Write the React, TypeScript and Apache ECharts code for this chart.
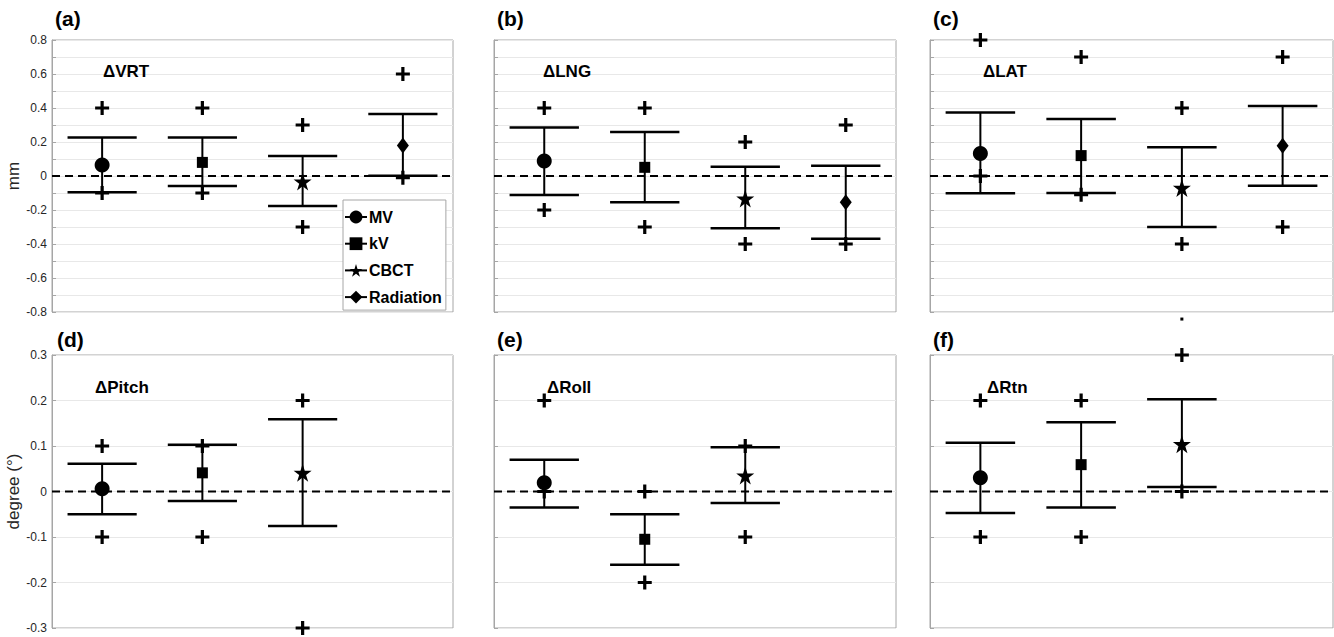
import React, { useEffect, useRef } from "react";
import * as echarts from "echarts";

// ---------- data ----------
const methods = ["MV", "kV", "CBCT", "Radiation"];
const xPositions = [1, 2, 3, 4];

// (a) ΔVRT (mm)
const meanVRT = [0.065, 0.08, -0.033, 0.18];
const lowVRT = [-0.096, -0.059, -0.176, 0.002];
const highVRT = [0.227, 0.227, 0.118, 0.365];
const outVRT = [[1, 0.4], [1, -0.1], [2, 0.4], [2, -0.1], [3, 0.3], [3, -0.3], [4, 0.6], [4, -0.01]];

// (b) ΔLNG (mm)
const meanLNG = [0.088, 0.051, -0.133, -0.155];
const lowLNG = [-0.112, -0.155, -0.308, -0.369];
const highLNG = [0.286, 0.259, 0.055, 0.061];
const outLNG = [[1, 0.4], [1, -0.2], [2, 0.4], [2, -0.3], [3, 0.2], [3, -0.4], [4, 0.3], [4, -0.4]];

// (c) ΔLAT (mm)
const meanLAT = [0.133, 0.12, -0.07, 0.178];
const lowLAT = [-0.102, -0.1, -0.3, -0.057];
const highLAT = [0.373, 0.335, 0.169, 0.412];
const outLAT = [[1, 0.8], [1, 0], [2, 0.7], [2, -0.11], [3, 0.4], [3, -0.4], [4, 0.7], [4, -0.3]];

// (d) ΔPitch (degree)
const meanPitch = [0.006, 0.041, 0.041];
const lowPitch = [-0.05, -0.021, -0.076];
const highPitch = [0.061, 0.103, 0.159];
const outPitch = [[1, 0.1], [1, -0.1], [2, 0.1], [2, -0.1], [3, 0.2], [3, -0.3]];

// (e) ΔRoll (degree)
const meanRoll = [0.019, -0.105, 0.035];
const lowRoll = [-0.035, -0.161, -0.025];
const highRoll = [0.07, -0.05, 0.097];
const outRoll = [[1, 0.2], [1, 0], [2, 0], [2, -0.2], [3, 0.1], [3, -0.1]];

// (f) ΔRtn (degree)
const meanRtn = [0.03, 0.059, 0.104];
const lowRtn = [-0.047, -0.035, 0.01];
const highRtn = [0.107, 0.152, 0.203];
const outRtn = [[1, 0.2], [1, -0.1], [2, 0.2], [2, -0.1], [3, 0.3], [3, 0]];
const dotRtn = [[3, 0.379]];

const panelLabels = ["(a)", "(b)", "(c)", "(d)", "(e)", "(f)"];
const panelTitles = ["\u0394VRT", "\u0394LNG", "\u0394LAT", "\u0394Pitch", "\u0394Roll", "\u0394Rtn"];

// ---------- styling ----------
const FONT = "'Liberation Sans', Arial, Helvetica, sans-serif";
const STAR =
  "path://M50,0L61.23,34.55L97.55,34.55L68.17,55.9L79.39,90.45L50,69.1L20.61,90.45L31.83,55.9L2.45,34.55L38.77,34.55Z";
const PLUS = "path://M5.4,0H8.6V5.4H14V8.6H8.6V14H5.4V8.6H0V5.4H5.4Z";
const SYMBOLS = ["circle", "rect", STAR, "diamond"];
const SIZES: any[] = [15, 11, 18, [12, 16]];
const CAP = 0.345;

const gridLefts = [52, 494, 930];
const gridWidths = [401, 402, 403];
const rowTops = [40, 355];
const rowHeights = [272, 273];

const panels = [
  { mean: meanVRT, low: lowVRT, high: highVRT, out: outVRT },
  { mean: meanLNG, low: lowLNG, high: highLNG, out: outLNG },
  { mean: meanLAT, low: lowLAT, high: highLAT, out: outLAT },
  { mean: meanPitch, low: lowPitch, high: highPitch, out: outPitch },
  { mean: meanRoll, low: lowRoll, high: highRoll, out: outRoll },
  { mean: meanRtn, low: lowRtn, high: highRtn, out: outRtn, dots: dotRtn },
];

const fmt = (v: number) => (Math.abs(v) < 1e-9 ? "0" : String(Math.round(v * 10) / 10));
const BLACK = { color: "#000", opacity: 1 };

function buildOption() {
  const grid: any[] = [];
  const xAxis: any[] = [];
  const yAxis: any[] = [];
  const series: any[] = [];
  const graphic: any[] = [];

  for (let i = 0; i < 6; i++) {
    const row = i < 3 ? 0 : 1;
    const col = i % 3;
    grid.push({
      left: gridLefts[col],
      top: rowTops[row],
      width: gridWidths[col],
      height: rowHeights[row],
      show: true,
      backgroundColor: "#fff",
      borderColor: "#a6a6a6",
      borderWidth: 1,
    });
    xAxis.push({
      type: "value",
      gridIndex: i,
      min: 0.5,
      max: 4.5,
      axisLine: { show: false },
      axisTick: { show: false },
      axisLabel: { show: false },
      splitLine: { show: false },
    });
    const top = row === 0;
    yAxis.push({
      type: "value",
      gridIndex: i,
      min: top ? -0.8 : -0.3,
      max: top ? 0.8 : 0.3,
      interval: top ? 0.2 : 0.1,
      name: col === 0 ? (top ? "mm" : "degree (\u00b0)") : "",
      nameLocation: "middle",
      nameGap: 27,
      nameTextStyle: { fontFamily: FONT, fontSize: 17, color: "#262626" },
      axisLine: { show: true, lineStyle: { color: "#a6a6a6" } },
      axisTick: { show: true, inside: true, length: 4, lineStyle: { color: "#a6a6a6" } },
      minorTick: top
        ? { show: true, splitNumber: 2, length: 4, lineStyle: { color: "#a6a6a6" } }
        : { show: false },
      minorSplitLine: top
        ? { show: true, lineStyle: { color: "#e8e8e8", width: 1 } }
        : { show: false },
      splitLine: { show: true, lineStyle: { color: "#e8e8e8", width: 1 } },
      axisLabel: {
        show: col === 0,
        formatter: fmt,
        fontFamily: FONT,
        fontSize: 12,
        color: "#262626",
        margin: 5,
      },
    });

    const p: any = panels[i];
    // zero dashed line
    series.push({
      type: "line",
      xAxisIndex: i,
      yAxisIndex: i,
      data: [[0.5, 0], [4.5, 0]],
      symbol: "none",
      silent: true,
      z: 3,
      lineStyle: { color: "#000", width: 2, type: [8, 5], opacity: 1 },
    });
    // error bars
    const ebData = p.mean.map((_: number, k: number) => [xPositions[k], p.low[k], p.high[k]]);
    series.push({
      type: "custom",
      xAxisIndex: i,
      yAxisIndex: i,
      data: ebData,
      z: 4,
      clip: false,
      silent: true,
      renderItem: (params: any, api: any) => {
        const x = api.value(0);
        const lo = api.value(1);
        const hi = api.value(2);
        const a = api.coord([x, lo]);
        const b = api.coord([x, hi]);
        const l1 = api.coord([x - CAP, lo]);
        const r1 = api.coord([x + CAP, lo]);
        const l2 = api.coord([x - CAP, hi]);
        const r2 = api.coord([x + CAP, hi]);
        const st = { stroke: "#000", lineWidth: 2 };
        const cst = { stroke: "#000", lineWidth: 2.5 };
        return {
          type: "group",
          children: [
            { type: "line", shape: { x1: a[0], y1: a[1], x2: b[0], y2: b[1] }, style: st },
            { type: "line", shape: { x1: l1[0], y1: l1[1], x2: r1[0], y2: r1[1] }, style: cst },
            { type: "line", shape: { x1: l2[0], y1: l2[1], x2: r2[0], y2: r2[1] }, style: cst },
          ],
        };
      },
    });
    // outliers (+)
    series.push({
      type: "scatter",
      xAxisIndex: i,
      yAxisIndex: i,
      data: p.out,
      symbol: PLUS,
      symbolSize: 14,
      clip: false,
      z: 5,
      itemStyle: BLACK,
      silent: true,
    });
    if (p.dots) {
      series.push({
        type: "scatter",
        xAxisIndex: i,
        yAxisIndex: i,
        data: p.dots,
        symbol: "rect",
        symbolSize: 3,
        clip: false,
        z: 5,
        itemStyle: BLACK,
        silent: true,
      });
    }
    // mean markers
    series.push({
      type: "scatter",
      xAxisIndex: i,
      yAxisIndex: i,
      clip: false,
      z: 6,
      silent: true,
      itemStyle: BLACK,
      data: p.mean.map((m: number, k: number) => ({
        value: [xPositions[k], m],
        symbol: SYMBOLS[k],
        symbolSize: SIZES[k],
      })),
    });

    // panel label
    const lx = [55, 497, 933][col];
    graphic.push({
      type: "text",
      z: 100,
      left: lx + (row === 1 && col === 0 ? 2 : 0),
      top: row === 0 ? 8 : 329,
      style: { text: panelLabels[i], font: `bold 21px ${FONT}`, fill: "#000" },
    });
    // panel title
    const tx = [[103, 543, 983], [95, 547, 987]][row][col];
    graphic.push({
      type: "text",
      z: 100,
      left: tx,
      top: row === 0 ? 63 : 379,
      style: { text: panelTitles[i], font: `bold 17px ${FONT}`, fill: "#000" },
    });
  }

  // legend-only series
  methods.forEach((m, k) => {
    series.push({
      type: "line",
      name: m,
      xAxisIndex: 0,
      yAxisIndex: 0,
      data: [],
      symbol: SYMBOLS[k],
      lineStyle: { color: "#000", width: 2 },
      itemStyle: BLACK,
    });
  });

  return {
    animation: false,
    backgroundColor: "#fff",
    grid,
    xAxis,
    yAxis,
    series,
    graphic,
    legend: {
      data: methods,
      orient: "vertical",
      left: 343,
      top: 200,
      z: 50,
      itemWidth: 22,
      itemHeight: 16,
      itemGap: 10.7,
      padding: [9, 4, 5, 1],
      backgroundColor: "#fff",
      borderColor: "#a6a6a6",
      borderWidth: 1,
      borderRadius: 0,
      selectedMode: false,
      textStyle: {
        fontFamily: FONT,
        fontWeight: "bold",
        fontSize: 16,
        color: "#000",
        padding: [0, 0, 0, -3],
      },
    },
  };
}

export default function App() {
  const ref = useRef<HTMLDivElement>(null);
  useEffect(() => {
    if (!ref.current) return;
    const chart = echarts.init(ref.current, undefined, { renderer: "svg" });
    chart.setOption(buildOption() as any);
    return () => chart.dispose();
  }, []);
  return (
    <div
      ref={ref}
      style={{ position: "absolute", left: 0, top: 0, width: 1334, height: 637, background: "#fff" }}
    />
  );
}
